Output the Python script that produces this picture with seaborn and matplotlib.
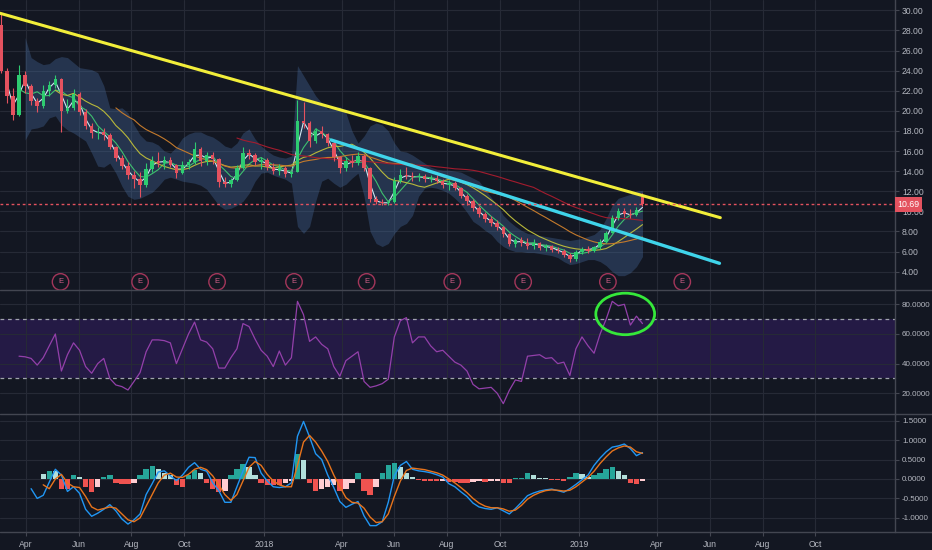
import numpy as np
import pandas as pd
import matplotlib
matplotlib.use('Agg')
import matplotlib.pyplot as plt
import matplotlib.dates as mdates
from matplotlib.patches import Ellipse
from matplotlib.lines import Line2D
from matplotlib.ticker import FixedLocator, FuncFormatter
from matplotlib.transforms import blended_transform_factory
import seaborn as sns

nan = np.nan

# ---------------- data ----------------
week_start = '2017-03-03'
n_weeks = 107

open_ = [28.5, 24.0, 21.5, 19.6, 23.6, 22.5, 21.0, 20.5, 22.0, 22.6,
         23.2, 20.0, 20.3, 21.7, 19.9, 18.5, 17.8, 17.9, 17.6, 16.4,
         15.3, 14.5, 13.6, 13.2, 12.6, 14.2, 15.0, 14.8, 15.1, 14.6,
         13.8, 14.6, 14.9, 16.2, 15.0, 15.6, 15.2, 12.9, 12.7, 13.1,
         14.3, 15.8, 15.6, 14.9, 15.1, 14.4, 14.0, 14.3, 13.7, 13.9,
         19.0, 18.8, 17.0, 18.0, 17.7, 16.8, 15.4, 14.3, 15.0, 14.8,
         15.5, 14.3, 11.2, 10.9, 10.8, 10.9, 13.0, 13.6, 13.5, 13.4,
         13.5, 13.2, 13.3, 13.0, 12.6, 12.8, 12.3, 11.5, 11.0, 10.3,
         9.7, 9.2, 8.8, 8.4, 7.7, 6.8, 7.1, 6.9, 6.6, 6.9,
         6.4, 6.6, 6.2, 6.1, 5.7, 5.3, 6.0, 6.3, 6.1, 6.5,
         7.0, 7.8, 9.3, 10.0, 9.7, 9.6, 11.4]
high = [29.7, 24.3, 22.3, 24.6, 24.0, 22.7, 21.3, 22.6, 23.0, 23.6,
        23.3, 21.2, 22.2, 21.9, 20.2, 18.8, 18.4, 18.3, 17.8, 16.5,
        15.6, 14.9, 14.0, 13.9, 14.8, 15.5, 15.9, 15.5, 15.4, 14.7,
        15.0, 15.2, 16.9, 16.4, 15.9, 15.9, 15.3, 13.4, 13.3, 14.6,
        16.4, 16.2, 15.8, 15.4, 15.3, 14.8, 14.7, 14.5, 14.0, 21.1,
        20.9, 19.0, 18.3, 18.5, 17.8, 17.0, 15.5, 15.4, 15.6, 15.9,
        15.7, 14.4, 11.5, 11.2, 11.1, 13.4, 14.2, 14.4, 13.9, 13.8,
        13.7, 13.6, 13.6, 13.2, 13.1, 13.0, 12.4, 11.7, 11.2, 10.5,
        9.9, 9.5, 9.1, 8.5, 7.8, 7.3, 7.4, 7.3, 7.2, 7.0,
        6.8, 6.7, 6.5, 6.3, 5.9, 6.2, 6.5, 6.6, 6.6, 7.2,
        8.0, 9.6, 10.3, 10.3, 10.2, 10.4, 11.8]
low = [23.8, 20.8, 19.1, 19.5, 21.8, 20.6, 19.9, 20.3, 21.5, 22.3,
       17.9, 19.8, 20.1, 19.6, 18.2, 17.3, 17.2, 17.1, 16.2, 15.0,
       14.2, 13.2, 12.3, 11.4, 12.4, 13.9, 14.4, 14.2, 14.4, 13.3,
       13.7, 14.2, 14.7, 14.5, 14.6, 14.7, 12.4, 12.4, 12.4, 13.0,
       14.2, 15.2, 14.6, 14.2, 14.1, 13.7, 13.6, 13.4, 13.4, 13.9,
       18.3, 16.4, 16.8, 17.3, 16.5, 15.0, 13.8, 14.0, 14.4, 14.6,
       14.0, 10.9, 10.7, 10.6, 10.6, 10.8, 12.8, 13.2, 13.0, 13.0,
       12.9, 12.9, 12.8, 12.3, 12.1, 12.1, 11.3, 10.6, 10.0, 9.4,
       8.9, 8.5, 8.1, 7.4, 6.6, 6.5, 6.6, 6.3, 6.3, 6.2,
       6.1, 6.0, 5.9, 5.5, 5.0, 5.1, 5.8, 5.9, 6.0, 6.3,
       6.9, 7.8, 9.1, 9.4, 9.3, 9.5, 10.5]
close = [24.0, 21.5, 19.6, 23.6, 22.5, 21.0, 20.5, 22.0, 22.6, 23.2,
         20.0, 20.3, 21.7, 19.9, 18.5, 17.8, 17.9, 17.6, 16.4, 15.3,
         14.5, 13.6, 13.2, 12.6, 14.2, 15.0, 14.8, 15.1, 14.6, 13.8,
         14.6, 14.9, 16.2, 15.0, 15.6, 15.2, 12.9, 12.7, 13.1, 14.3,
         15.8, 15.6, 14.9, 15.1, 14.4, 14.0, 14.3, 13.7, 13.9, 19.0,
         18.8, 17.0, 18.0, 17.7, 16.8, 15.4, 14.3, 15.0, 14.8, 15.5,
         14.3, 11.2, 10.9, 10.8, 10.9, 13.0, 13.6, 13.5, 13.4, 13.5,
         13.2, 13.3, 13.0, 12.6, 12.8, 12.3, 11.5, 11.0, 10.3, 9.7,
         9.2, 8.8, 8.4, 7.7, 6.8, 7.1, 6.9, 6.6, 6.9, 6.4,
         6.6, 6.2, 6.1, 5.7, 5.3, 6.0, 6.3, 6.1, 6.5, 7.0,
         7.8, 9.3, 10.0, 9.7, 9.6, 10.1, 10.69]

band_upper = [nan, nan, nan, nan,
              27.3, 25.3, 24.9, 24.6, 24.7, 25.2, 25.4, 25.3, 24.8, 24.3,
              24.2, 24.1, 23.8, 22.5, 20.3, 20.2, 20.3, 19.8, 18.6, 17.6,
              17.0, 16.9, 16.6, 16.0, 15.8, 16.4, 17.3, 17.7, 17.9, 17.9,
              17.6, 17.4, 17.0, 16.5, 16.3, 16.8, 17.8, 18.2, 17.2, 16.5,
              16.0, 15.6, 15.4, 15.3, 15.5, 24.5, 23.5, 22.5, 21.5, 20.8,
              20.2, 20.3, 20.4, 19.8, 18.0, 16.8, 17.5, 18.5, 18.8, 18.6,
              18.0, 16.8, 16.0, 15.9, 15.6, 15.2, 14.8, 14.4, 14.2, 14.1,
              14.1, 14.0, 13.9, 13.6, 13.3, 13.0, 12.2, 11.4, 10.6, 9.6,
              9.0, 8.5, 8.1, 7.8, 7.7, 7.6, 7.5, 7.4, 7.3, 7.2,
              7.1, 7.2, 7.3, 7.5, 7.7, 8.2, 9.3, 10.6, 11.3, 11.5,
              11.7, 12.0, 12.1]
band_lower = [nan, nan, nan, nan,
              17.1, 18.2, 18.3, 18.5, 19.3, 19.5, 18.6, 18.1, 17.8, 17.4,
              17.0, 15.8, 14.5, 14.4, 14.8, 13.8, 12.5, 11.5, 11.2, 11.3,
              11.6, 11.9, 12.5, 13.2, 13.4, 13.2, 13.0, 12.9, 12.8, 12.6,
              12.2, 11.4, 10.6, 10.2, 10.3, 10.6, 11.0, 11.8, 13.0, 13.8,
              13.9, 13.6, 13.4, 13.2, 12.8, 8.5, 7.8, 8.5, 11.0, 13.0,
              13.3, 12.8, 12.4, 12.7, 13.3, 13.8, 11.5, 8.0, 6.8, 6.5,
              6.8, 7.8, 8.5, 8.8, 9.6, 11.5, 12.3, 12.4, 12.3, 12.1,
              11.8, 11.3, 10.7, 9.9, 9.0, 8.6, 8.1, 7.7, 7.0, 6.5,
              6.2, 6.0, 6.0, 5.9, 5.9, 5.8, 5.7, 5.6, 5.4, 5.0,
              4.7, 4.8, 5.0, 5.2, 5.2, 5.0, 4.6, 4.0, 3.6, 3.6,
              3.9, 4.5, 5.5]

ma_windows = [2, 4, 10, 20, 40]          # weekly equivalents of 10/20/50/100/200-day MAs
ma_colors = ['#cfe8f3', '#3fbf6f', '#b8b83a', '#c47a2c', '#a31c2e']

rsi = [nan, nan, nan,
       45, 44.6, 43.5, 39, 44, 52, 60, 35, 46, 54,
       49, 38, 33.5, 40, 43.5, 30, 25.6, 24.5, 22.2, 28,
       34, 48, 56, 56, 55.5, 54, 40, 50, 60, 68,
       56, 54.5, 50, 37, 37, 44, 50, 67, 65, 56.5,
       49, 45, 38, 48.5, 39, 44, 82, 73, 55, 58,
       53, 50, 38, 31.5, 42, 45, 48, 28, 24, 25,
       26.5, 29.5, 58, 69, 71, 54, 58, 58, 52, 48,
       49, 45, 41, 39, 35, 26, 23, 23.5, 24, 20,
       13, 22, 29, 28, 45, 45.5, 46, 43.5, 44, 40,
       41, 32, 50, 58, 52, 47, 60, 70, 82, 79,
       80, 66, 72, 67]

macd = [nan, nan, nan, nan, nan,
        -0.25, -0.50, -0.42, -0.08, 0.25, 0.10, -0.32, -0.20, -0.37, -0.78,
        -0.96, -0.88, -0.78, -0.66, -0.82, -1.03, -1.16, -1.05, -0.90, -0.40,
        -0.12, 0.18, 0.21, 0.08, -0.04, 0.10, 0.30, 0.42, 0.25, 0.20,
        -0.10, -0.30, -0.60, -0.60, -0.20, 0.20, 0.56, 0.55, 0.15, -0.05,
        -0.20, -0.22, -0.20, -0.10, 1.10, 1.48, 1.08, 0.65, 0.50, 0.10,
        -0.22, -0.58, -0.73, -0.65, -0.58, -0.95, -1.20, -1.20, -1.10, -0.60,
        0.08, 0.35, 0.45, 0.25, 0.21, 0.19, 0.16, 0.11, 0.05, -0.12,
        -0.20, -0.33, -0.45, -0.62, -0.72, -0.76, -0.78, -0.74, -0.82, -0.90,
        -0.76, -0.60, -0.43, -0.36, -0.31, -0.28, -0.26, -0.30, -0.34, -0.25,
        -0.14, -0.02, 0.10, 0.35, 0.54, 0.70, 0.82, 0.85, 0.90, 0.78,
        0.60, 0.68]
signal = [nan, nan, nan, nan, nan, nan, nan,
          -0.15, -0.25, 0.00, 0.12, -0.10, -0.20, -0.22, -0.45, -0.72, -0.80,
          -0.76, -0.72, -0.75, -0.90, -1.05, -1.10, -1.00, -0.70, -0.40, -0.10,
          0.10, 0.15, 0.05, 0.04, 0.12, 0.25, 0.30, 0.24, 0.08, -0.15,
          -0.40, -0.55, -0.40, -0.05, 0.30, 0.45, 0.35, 0.12, -0.05, -0.15,
          -0.20, -0.20, 0.35, 0.95, 1.12, 0.95, 0.72, 0.45, 0.10, -0.20,
          -0.48, -0.60, -0.62, -0.75, -0.98, -1.12, -1.10, -0.90, -0.45, -0.05,
          0.22, 0.28, 0.26, 0.24, 0.20, 0.16, 0.10, 0.00, -0.10, -0.22,
          -0.35, -0.50, -0.62, -0.70, -0.74, -0.74, -0.77, -0.83, -0.80, -0.68,
          -0.52, -0.42, -0.35, -0.30, -0.28, -0.29, -0.31, -0.29, -0.20, -0.08,
          0.04, 0.20, 0.40, 0.57, 0.72, 0.80, 0.85, 0.82, 0.70, 0.66]
macd_hist = [nan, nan, nan, nan, nan, nan, nan,
             0.12, 0.21, 0.20, -0.25, -0.25, 0.10, 0.05, -0.20, -0.33, -0.20,
             0.05, 0.10, -0.10, -0.12, -0.12, -0.10, 0.10, 0.25, 0.34, 0.25,
             0.15, 0.10, -0.15, -0.20, 0.10, 0.22, 0.15, -0.10, -0.25, -0.34,
             -0.30, 0.10, 0.25, 0.38, 0.30, 0.10, -0.10, -0.15, -0.15, -0.15,
             -0.10, -0.05, 0.65, 0.50, -0.10, -0.30, -0.25, -0.20, -0.15, -0.30,
             -0.25, -0.10, 0.15, -0.30, -0.40, -0.20, 0.15, 0.35, 0.41, 0.30,
             0.15, 0.05, -0.03, -0.04, -0.05, -0.06, -0.05, -0.08, -0.08, -0.10,
             -0.10, -0.08, -0.06, -0.08, -0.05, -0.04, -0.10, -0.10, 0.02, 0.03,
             0.15, 0.10, 0.03, 0.02, -0.02, -0.03, -0.05, 0.04, 0.15, 0.12,
             0.05, 0.10, 0.15, 0.25, 0.30, 0.20, 0.10, -0.10, -0.12, -0.05]

yellow_dates = ['2017-03-02', '2019-06-13']
yellow_vals = [29.71, 9.37]
cyan_dates = ['2018-03-20', '2019-06-12']
cyan_vals = [17.1, 4.83]
last_price = 10.69

earnings_dates = ['2017-05-11', '2017-08-11', '2017-11-08', '2018-02-05', '2018-04-30',
                  '2018-08-07', '2018-10-28', '2019-02-03', '2019-04-30']

xtick_dates = ['2017-04-01', '2017-06-01', '2017-08-01', '2017-10-01', '2018-01-01',
               '2018-04-01', '2018-06-01', '2018-08-01', '2018-10-01', '2019-01-01',
               '2019-04-01', '2019-06-01', '2019-08-01', '2019-10-01']
xtick_labels = ['Apr', 'Jun', 'Aug', 'Oct', '2018', 'Apr', 'Jun', 'Aug', 'Oct', '2019',
                'Apr', 'Jun', 'Aug', 'Oct']
price_ticks = [4, 6, 8, 10, 12, 14, 16, 18, 20, 22, 24, 26, 28, 30]
rsi_ticks = [20, 40, 60, 80]
macd_ticks = [-1.0, -0.5, 0.0, 0.5, 1.0, 1.5]

# ---------------- style ----------------
BG = '#131722'
GRID = '#262a36'
TXT = '#b4b7c0'
SEP = '#434651'
sns.set_theme(style='dark', rc={'axes.facecolor': BG, 'figure.facecolor': BG,
                                'axes.edgecolor': SEP, 'grid.color': GRID})
plt.rcParams['font.family'] = ['Liberation Sans', 'DejaVu Sans']
plt.rcParams['axes.unicode_minus'] = False

W, H = 932, 550
fig = plt.figure(figsize=(W / 100, H / 100), dpi=100, facecolor=BG)
PR = 895


def make_ax(top, bottom, lsize):
    ax = fig.add_axes([0, 1 - bottom / H, PR / W, (bottom - top) / H])
    ax.set_facecolor(BG)
    for s in ['left', 'top', 'bottom']:
        ax.spines[s].set_visible(False)
    ax.spines['right'].set_color(SEP)
    ax.spines['right'].set_linewidth(1.0)
    ax.yaxis.tick_right()
    ax.tick_params(axis='y', colors=SEP, labelcolor=TXT, labelsize=lsize, length=3, width=0.8,
                   pad=2, right=True, left=False)
    ax.tick_params(axis='x', colors=SEP, labelcolor=TXT, labelsize=6.2, length=3, width=0.8,
                   pad=3, bottom=True)
    ax.grid(True, color=GRID, linewidth=0.8)
    ax.set_axisbelow(True)
    return ax


ax1 = make_ax(0, 290, 6.2)
ax2 = make_ax(290, 414, 5.8)
ax3 = make_ax(414, 532, 5.8)

dates = pd.date_range(week_start, periods=n_weeks, freq='7D')
xnum = mdates.date2num(dates)
xlim = (mdates.date2num(pd.Timestamp('2017-03-02')), mdates.date2num(pd.Timestamp('2020-01-01')))
tick_pos = mdates.date2num(pd.to_datetime(xtick_dates))

# ---------------- price panel ----------------
O = np.array(open_); Hh = np.array(high); L = np.array(low); C = np.array(close)
ax1.fill_between(xnum, band_lower, band_upper, color='#4a72a8', alpha=0.33, linewidth=0, zorder=1)

cs = pd.Series(C)
for w, col in zip(ma_windows, ma_colors):
    ma = cs.rolling(w).mean().values
    sns.lineplot(x=xnum, y=ma, ax=ax1, color=col, linewidth=0.8, estimator=None, zorder=3)

ccol = np.where(C >= O, '#2ecc71', '#e4525f')
ax1.vlines(xnum, L, Hh, colors=ccol, linewidth=0.8, zorder=4)
body_lo = np.minimum(O, C)
body_h = np.maximum(np.abs(C - O), 0.08)
ax1.bar(xnum, body_h, bottom=body_lo, width=4.0, color=ccol, linewidth=0, zorder=5)

sns.lineplot(x=mdates.date2num(pd.to_datetime(yellow_dates)), y=yellow_vals, ax=ax1,
             color='#f2ee3a', linewidth=2.2, estimator=None, zorder=6)
sns.lineplot(x=mdates.date2num(pd.to_datetime(cyan_dates)), y=cyan_vals, ax=ax1,
             color='#3fd4ea', linewidth=2.4, estimator=None, zorder=6)
ax1.axhline(last_price, color='#e4525f', linewidth=1.0, linestyle=(0, (2, 2)), zorder=6)

btr = blended_transform_factory(ax1.transData, ax1.transAxes)
ex = mdates.date2num(pd.to_datetime(earnings_dates))
ax1.scatter(ex, [0.028] * len(ex), s=140, facecolors='none', edgecolors='#a3365a',
            linewidths=1.0, transform=btr, zorder=7, clip_on=False)
for e in ex:
    ax1.text(e, 0.028, 'E', transform=btr, color='#d5618a', fontsize=5.5,
             ha='center', va='center', zorder=8)

ax1.set_ylim(31.03 - 290 / 10.05, 31.03)
ax1.yaxis.set_major_locator(FixedLocator(price_ticks))
ax1.yaxis.set_major_formatter(FuncFormatter(lambda v, p: f'{v:.2f}'))
ty = blended_transform_factory(ax1.transAxes, ax1.transData)
ax1.text(1.003, last_price, f'{last_price:.2f}', transform=ty, color='white', fontsize=6.3,
         ha='left', va='center', zorder=10, clip_on=False,
         bbox=dict(boxstyle='square,pad=0.3', facecolor='#e4525f', edgecolor='none'))

# ---------------- RSI panel ----------------
ax2.axhspan(30, 70, color='#241a45', zorder=0.5, linewidth=0)
ax2.axhline(70, color='#a0a3ad', linewidth=0.9, linestyle=(0, (3, 3)), zorder=2)
ax2.axhline(30, color='#a0a3ad', linewidth=0.9, linestyle=(0, (3, 3)), zorder=2)
sns.lineplot(x=xnum, y=rsi, ax=ax2, color='#9340aa', linewidth=0.9, estimator=None, zorder=3)
ax2.set_ylim(6.03, 89.64)
ax2.yaxis.set_major_locator(FixedLocator(rsi_ticks))
ax2.yaxis.set_major_formatter(FuncFormatter(lambda v, p: f'{v:.4f}'))
ell = Ellipse((mdates.date2num(pd.Timestamp('2019-02-23')), 73.5), 68, 28,
              facecolor='none', edgecolor='#35e83a', linewidth=2.0, zorder=6)
ax2.add_patch(ell)

# ---------------- MACD panel ----------------
hist = np.array(macd_hist)
prev = np.r_[nan, hist[:-1]]
hcol = np.where(hist >= 0,
                np.where(hist >= prev, '#26a69a', '#b2dfdb'),
                np.where(hist <= prev, '#ef5350', '#ffcdd2'))
ax3.bar(xnum, np.nan_to_num(hist), width=6.2, color=hcol, linewidth=0, zorder=2)
sns.lineplot(x=xnum, y=macd, ax=ax3, color='#2196f3', linewidth=1.0, estimator=None, zorder=3)
sns.lineplot(x=xnum, y=signal, ax=ax3, color='#e8741c', linewidth=1.0, estimator=None, zorder=4)
ax3.set_ylim(-1.364, 1.672)
ax3.yaxis.set_major_locator(FixedLocator(macd_ticks))
ax3.yaxis.set_major_formatter(FuncFormatter(lambda v, p: f'{v:.4f}'))

for ax in (ax1, ax2, ax3):
    ax.set_xlim(*xlim)
    ax.xaxis.set_major_locator(FixedLocator(tick_pos))
    ax.set_xlabel('')
    ax.set_ylabel('')
for ax in (ax1, ax2):
    ax.tick_params(axis='x', bottom=False, labelbottom=False)
ax3.set_xticklabels(xtick_labels)

for yy in (290, 414, 532):
    fig.add_artist(Line2D([0, 1], [1 - yy / H, 1 - yy / H], transform=fig.transFigure,
                          color=SEP, linewidth=1.0))

fig.savefig('out.png', dpi=100, facecolor=BG)
